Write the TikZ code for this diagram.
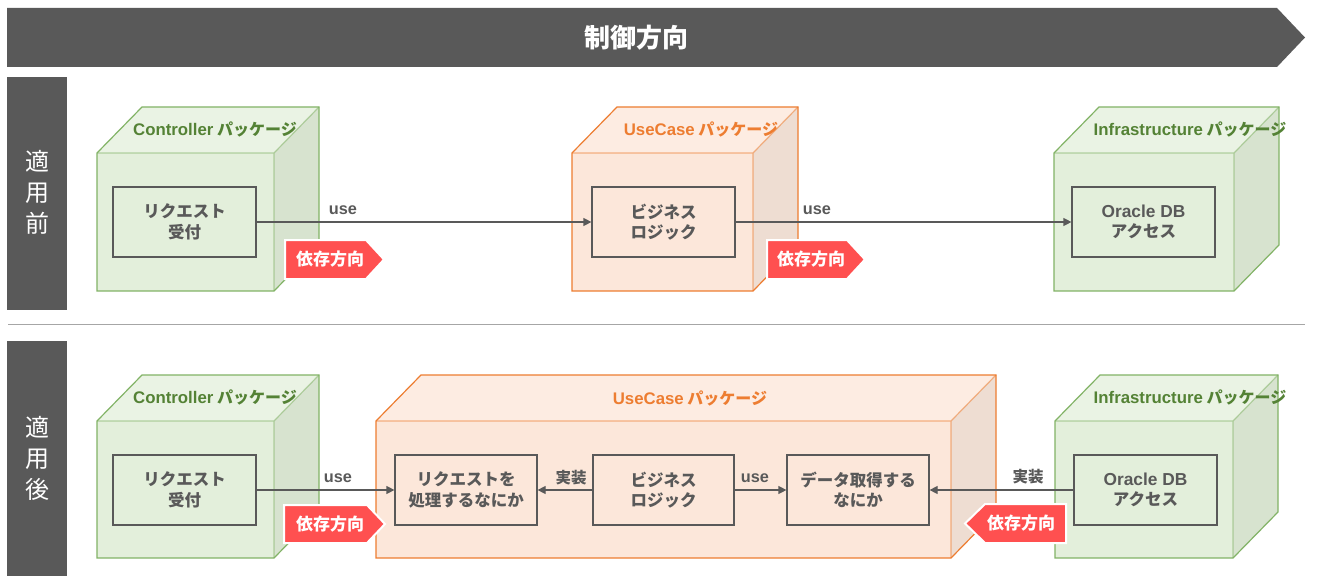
\documentclass[tikz,border=0pt]{standalone}
\usepackage{fontspec}
\setmainfont{Noto Sans CJK JP}
\newfontfamily\lat{Liberation Sans}[Scale=1.05]
\usetikzlibrary{arrows.meta}
\definecolor{dark}{HTML}{595959}
\definecolor{sepgray}{HTML}{A6A6A6}
\definecolor{gfront}{HTML}{E3EFDB}
\definecolor{gtop}{HTML}{EAF3E4}
\definecolor{gside}{HTML}{D7E3CF}
\definecolor{gstroke}{HTML}{82B366}
\definecolor{gtext}{HTML}{548235}
\definecolor{ofront}{HTML}{FCE7DA}
\definecolor{otop}{HTML}{FDECE2}
\definecolor{oside}{HTML}{EEDDD2}
\definecolor{ostroke}{HTML}{ED7D31}
\definecolor{otext}{HTML}{ED7D31}
\definecolor{tagred}{HTML}{FF5050}
\newcommand\pkgcube[6]{%
  \fill[#5front] (#1,#2) rectangle (#3,#4);
  \fill[#5top] (#1,#2) -- (#1+45,#2-46) -- (#3+45,#2-46) -- (#3,#2) -- cycle;
  \fill[#5side] (#3,#2) -- (#3+45,#2-46) -- (#3+45,#4-46) -- (#3,#4) -- cycle;
  \draw[#5stroke, line width=1.2, opacity=0.55] (#1,#2) -- (#3,#2) -- (#3,#4) (#3,#2) -- (#3+45,#2-46);
  \draw[#5stroke, line width=1.2, line join=miter] (#1,#2) -- (#1+45,#2-46) -- (#3+45,#2-46) -- (#3+45,#4-46) -- (#3,#4) -- (#1,#4) -- cycle;
}
\newcommand\lt[1]{{\lat\bfseries #1}}
\tikzset{
  pkglabel/.style={font=\fontsize{16}{18}\selectfont\bfseries, inner sep=0},
  inbox/.style={draw=dark, line width=1.2, text=dark, minimum height=70, align=center, inner sep=0,
     font=\fontsize{16.5}{20.5}\selectfont\bfseries},
  conn/.style={draw=dark, line width=1.2, -{Triangle[length=8,width=8]}},
  connlabel/.style={text=dark, font=\fontsize{15.5}{17}\selectfont\bfseries, inner sep=0},
  tagshape/.style={fill=tagred, draw=white, line width=2, line join=miter},
  tagtext/.style={text=white, font=\fontsize{17}{19}\selectfont\bfseries, inner sep=0},
  sidetext/.style={text=white, align=center, inner sep=0, font=\fontsize{24}{31}\selectfont}
}
\begin{document}
\begin{tikzpicture}[x=1pt,y=-1pt]
\useasboundingbox (0,0) rectangle (1317,588);
\fill[white] (0,0) rectangle (1317,588);
% banner
\fill[dark] (7,8) -- (1277,8) -- (1305,37.5) -- (1277,67) -- (7,67) -- cycle;
\node[text=white, font=\fontsize{26}{30}\selectfont\bfseries, inner sep=0] (title) at (636,37.5) {制御方向};
% side labels
\fill[dark] (7,77) rectangle (67,310);
\node[sidetext] (before) at (37,192) {適\\用\\前};
\fill[dark] (7,341) rectangle (67,576);
\node[sidetext] (after) at (37,458) {適\\用\\後};
\draw[sepgray, line width=1] (8,324) -- (1305,324);

% ===== top row =====
\pkgcube{97}{153}{274}{291}{g}{}
\pkgcube{572}{153}{753}{291}{o}{}
\pkgcube{1054}{153}{1234}{291}{g}{}
\node[inbox, minimum width=143] (req1) at (184.5,222) {リクエスト\\受付};
\node[inbox, minimum width=143] (biz1) at (663.5,222) {ビジネス\\ロジック};
\node[inbox, minimum width=143] (ora1) at (1143.5,222) {\lt{Oracle DB}\\アクセス};
\node[pkglabel, text=gtext] (cl1) at (215,129) {\lt{Controller} パッケージ};
\node[pkglabel, text=otext] (ul1) at (701,129) {\lt{UseCase} パッケージ};
\node[pkglabel, text=gtext] (il1) at (1190,129) {\lt{Infrastructure} パッケージ};
\draw[conn] (req1) -- (biz1);
\draw[conn] (biz1) -- (ora1);
\node[connlabel] (u1) at (343,210) {\lt{use}};
\node[connlabel] (u2) at (817,210) {\lt{use}};
\filldraw[tagshape] (285,240) -- (366,240) -- (384,259.5) -- (366,279) -- (285,279) -- cycle;
\node[tagtext] (t1) at (330,259.5) {依存方向};
\filldraw[tagshape] (767,240) -- (847,240) -- (865,259.5) -- (847,279) -- (767,279) -- cycle;
\node[tagtext] (t2) at (811,259.5) {依存方向};

% ===== bottom row =====
\pkgcube{97}{421}{274}{558}{g}{}
\pkgcube{376}{421}{951}{558}{o}{}
\pkgcube{1055}{421}{1233}{558}{g}{}
\node[inbox, minimum width=143] (req2) at (184.5,490) {リクエスト\\受付};
\node[inbox, minimum width=142] (proc) at (466,490) {リクエストを\\処理するなにか};
\node[inbox, minimum width=141] (biz2) at (663.5,490) {ビジネス\\ロジック};
\node[inbox, minimum width=142] (data) at (858,490) {データ取得する\\なにか};
\node[inbox, minimum width=143] (ora2) at (1145.5,490) {\lt{Oracle DB}\\アクセス};
\node[pkglabel, text=gtext] (cl2) at (215,397) {\lt{Controller} パッケージ};
\node[pkglabel, text=otext] (ul2) at (690,398) {\lt{UseCase} パッケージ};
\node[pkglabel, text=gtext] (il2) at (1190,397) {\lt{Infrastructure} パッケージ};
\draw[conn] (req2) -- (proc);
\draw[conn] (biz2) -- (proc);
\draw[conn] (biz2) -- (data);
\draw[conn] (ora2) -- (data);
\node[connlabel] (u3) at (338,478) {\lt{use}};
\node[connlabel] (i1) at (571,478) {実装};
\node[connlabel] (u4) at (755,478) {\lt{use}};
\node[connlabel] (i2) at (1028,477) {実装};
\filldraw[tagshape] (284,505) -- (367,505) -- (385,524) -- (367,543) -- (284,543) -- cycle;
\node[tagtext] (t3) at (330,524) {依存方向};
\filldraw[tagshape] (1066,504) -- (985,504) -- (965,523.5) -- (985,543) -- (1066,543) -- cycle;
\node[tagtext] (t4) at (1021,523.5) {依存方向};
\end{tikzpicture}
\end{document}
